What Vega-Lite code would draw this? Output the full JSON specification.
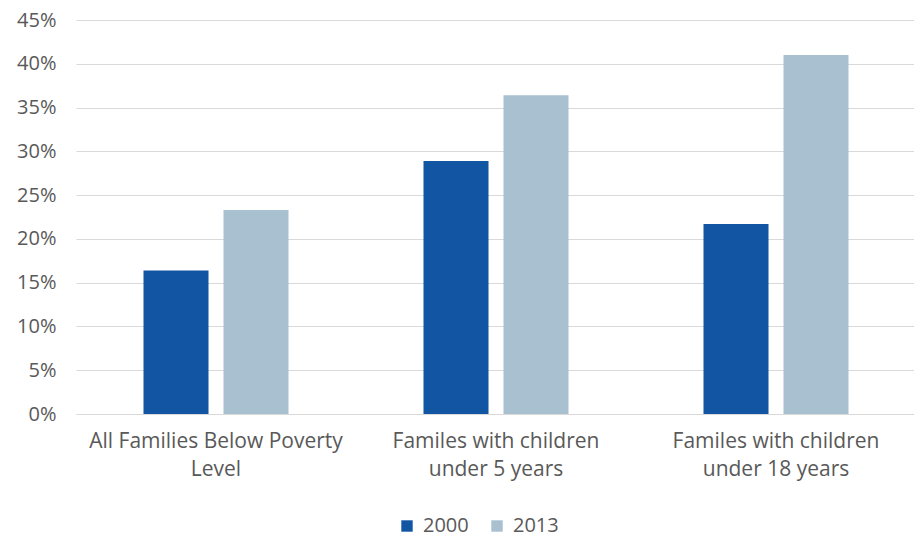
{
  "$schema": "https://vega.github.io/schema/vega-lite/v6.json",
  "width": 840,
  "height": 394,
  "padding": {"left": 16, "top": 10, "right": 2, "bottom": 0},
  "background": "white",
  "config": {
    "view": {"stroke": null},
    "font": "Open Sans"
  },
  "data": {
    "values": [
      {"category": "All Families Below Poverty Level", "year": "2000", "value": 0.164},
      {"category": "All Families Below Poverty Level", "year": "2013", "value": 0.233},
      {"category": "Familes with children under 5 years", "year": "2000", "value": 0.289},
      {"category": "Familes with children under 5 years", "year": "2013", "value": 0.364},
      {"category": "Familes with children under 18 years", "year": "2000", "value": 0.217},
      {"category": "Familes with children under 18 years", "year": "2013", "value": 0.41}
    ]
  },
  "mark": {"type": "bar"},
  "encoding": {
    "x": {
      "field": "category",
      "type": "nominal",
      "sort": null,
      "title": null,
      "scale": {"paddingInner": 0, "paddingOuter": 0},
      "axis": {
        "labelAngle": 0,
        "labelFontSize": 21,
        "labelColor": "#595959",
        "labelPadding": 16,
        "labelLineHeight": 28,
        "labelBaseline": "top",
        "labelLimit": 0,
        "ticks": false,
        "domainColor": "#d9d9d9",
        "domainWidth": 1,
        "labelExpr": "datum.label == 'All Families Below Poverty Level' ? ['All Families Below Poverty', 'Level'] : datum.label == 'Familes with children under 5 years' ? ['Familes with children', 'under 5 years'] : ['Familes with children', 'under 18 years']"
      }
    },
    "xOffset": {
      "field": "year",
      "type": "nominal",
      "scale": {"paddingInner": 0.1875, "paddingOuter": 0.84375}
    },
    "y": {
      "field": "value",
      "type": "quantitative",
      "title": null,
      "scale": {"domain": [0, 0.45], "nice": false},
      "axis": {
        "format": ".0%",
        "values": [0, 0.05, 0.1, 0.15, 0.2, 0.25, 0.3, 0.35, 0.4, 0.45],
        "labelFontSize": 20,
        "labelColor": "#595959",
        "labelPadding": 20,
        "ticks": false,
        "domain": false,
        "gridColor": "#d9d9d9",
        "gridWidth": 1
      }
    },
    "color": {
      "field": "year",
      "type": "nominal",
      "title": null,
      "scale": {"domain": ["2000", "2013"], "range": ["#1155a3", "#a9c0d0"]},
      "legend": {
        "orient": "none",
        "legendX": 321,
        "legendY": 496,
        "padding": 0,
        "direction": "horizontal",
        "symbolType": "square",
        "symbolSize": 130,
        "symbolStrokeWidth": 0,
        "labelFontSize": 20,
        "labelColor": "#595959",
        "columnPadding": 18,
        "labelOffset": 6
      }
    }
  }
}
